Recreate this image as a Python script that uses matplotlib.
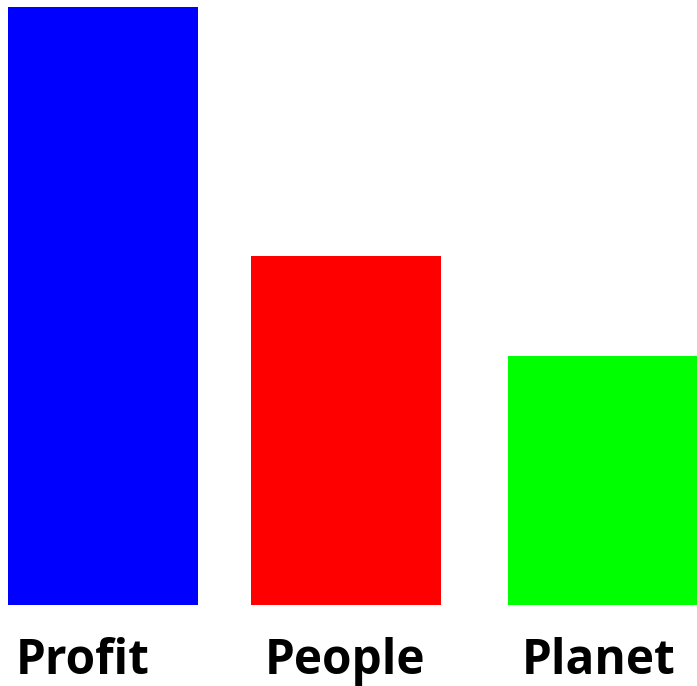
import matplotlib as mpl
mpl.use('Agg')
import matplotlib.pyplot as plt

# values
categories = ['Profit', 'People', 'Planet']
values = [6.0, 3.5, 2.5]
colors = ['#0000ff', '#ff0000', '#00ff00']

# layout: slot positions of the bars and small nudges of the labels
xpos = [0, 0.972, 2.0]
label_shift = [-0.082, -0.004, -0.016]

fig = plt.figure(figsize=(6.97, 6.86), dpi=100)
ax = fig.add_axes([0, 81 / 686, 1, 605 / 686])

ax.bar(xpos, values, width=0.76, color=colors)
ax.set_xlim(-0.412, 2.376)
ax.set_ylim(0, 6.07)

for x, dx, name in zip(xpos, label_shift, categories):
    ax.text(x + dx, -0.69, name, ha='center', va='baseline',
            fontsize=34.4, fontweight='bold', family='Open Sans', clip_on=False)

ax.axis('off')
plt.savefig('out.png', dpi=100)
